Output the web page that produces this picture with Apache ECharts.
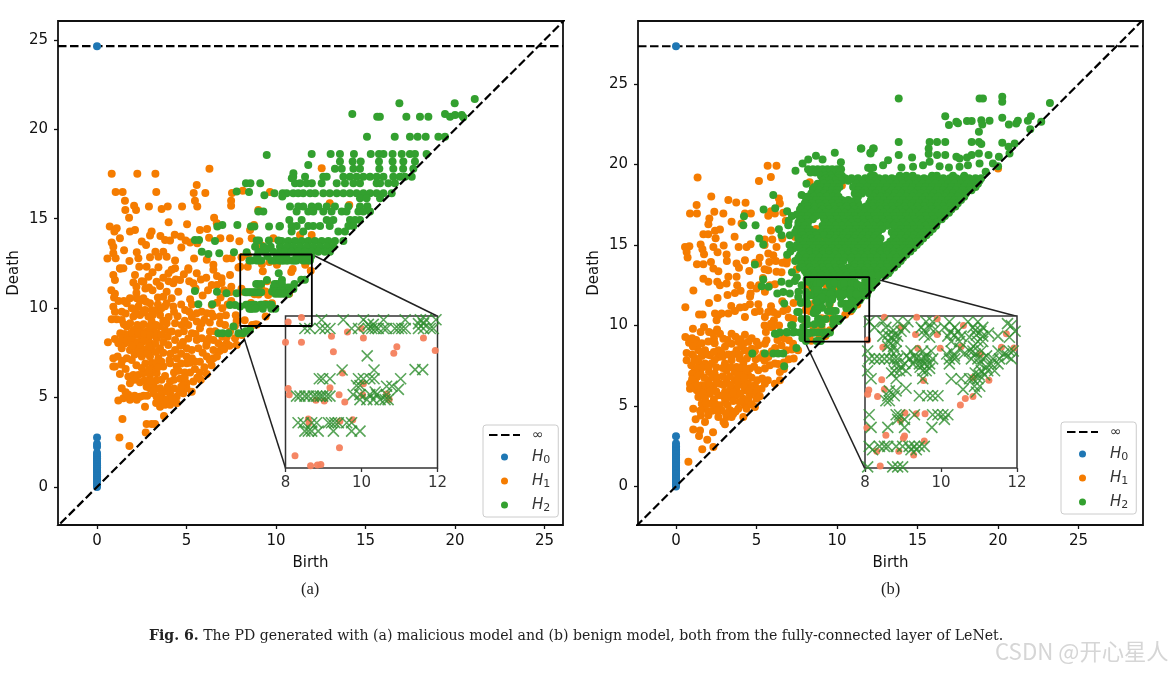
<!DOCTYPE html>
<html><head><meta charset="utf-8">
<style>html,body{margin:0;padding:0;background:#fff}#c{width:1172px;height:673px}</style>
<script src="https://cdn.jsdelivr.net/npm/echarts@6/dist/echarts.min.js"></script>
</head><body><div id="c"></div>
<script>
const ticksMain=[0,5,10,15,20,25];
const ticksInset=[8,10,12];
const legendNames=['∞','H0','H1','H2'];
// --- panel (a) values, flat birth,death pairs
const infA=24.65, infB=27.35;
const h0A=[0,0,0,.1,0,.2,0,.3,0,.4,0,.5,0,.6,0,.7,0,.8,0,.9,0,1,0,1.1,0,1.2,0,1.3,0,1.4,0,1.5,0,1.6,0,1.7,0,1.8,0,1.9,0,2.25,0,2.4,0,2.76,0,24.65];
const h1aTop=[.82,17.52,2.25,17.52,3.26,17.52,6.28,17.8,1.04,16.5,1.43,16.5,3.31,16.5,5.57,16.89,5.4,16.44,6.05,16.44,7.54,16.44,8.14,16.57,9.66,16.5,1.56,16,2.07,15.72,2.18,15.49,1.58,15.49,2.9,15.68,3.95,15.68,3.61,15.55,4.75,15.68,5.47,16,5.6,15.68,7.49,16,7.49,15.73,1.79,15.06,4,14.8,5.03,14.69,6.54,15.06,9.01,15.49,.71,14.56,1.1,14.47,.97,14.28,1.84,14.28,2.12,14.37,3.05,14.28,2.96,14.06,6.69,14.75,5.75,14.37,6.15,14.43,8.77,14.65,8.55,14.37,1.28,13.91,3.54,14.04,3.8,13.81,4.08,13.78,4.34,14.11,4.68,14,4.95,13.78,5.2,13.67,6.26,13.94,6.89,13.91,7.43,13.91,7.95,13.74,8.64,13.91,9.85,13.91,.82,13.67,.91,13.44,2.74,13.53,2.5,13.72,1.51,13.24,2.22,13.12,3.26,13.16,3.7,13.16,4.71,13.39,5.6,13.63,.91,13.07,1.04,12.79,.58,12.77,1.81,12.64,2.31,12.79,2.96,12.85,3.43,12.88,3.89,12.88,4.36,12.66,5.42,12.77,6.13,12.7,6.5,12.42,7.24,12.77,7.52,12.79,7.9,12.27,1.28,12.23,1.47,12.23,2.36,12.32,2.77,12.32,3.43,12.29,4.36,12.23,5.1,12.23,13,15.86,14.09,15.77,12.55,17.82,11.99,14.09,11.34,14.09,10.4,13.2,9.2,13.5];
const h1aMid=[.91,11.86,1,11.58,1.3,12.2,2.12,11.86,2.59,11.48,2.03,11.43,2.87,11.76,3.33,11.48,3.52,11.24,3.99,11.95,4.17,12.14,4.64,11.58,4.26,11.39,5.1,12.14,5.57,11.95,6.41,11.3,5.38,11.39,6.5,12.14,6.96,11.67,7.43,11.86,5.5,11.1,.8,11,1,10.8,.95,10.6,1.2,10.4,3.4,10.6,.91,10.08,1,9.8,.82,9.38,1.1,9.38,1.38,9.34,1.38,9.8,1.66,10.27,1.84,10.55,2.22,10.55,2.59,10.55,2.96,10.27,3.05,9.9,1.94,9.99,2.31,10.09,2.68,9.9,2.03,9.53,2.4,9.62,2.87,9.53,3.05,9.25,3.52,9.62,3.89,9.15,4.36,9.15,4.73,9.06,5.1,9.06,5.57,9.25,5.85,9.15,5.57,9.71,5.85,9.8,4.92,9.9,4.26,10.09,3.89,10.27,3.7,10.64,4.17,10.55,4.54,10.92,3.89,10.92,3.52,8.97,3.8,8.78,4.17,8.69,4.54,8.59,4.85,8.7,1.66,8.97,2.03,8.78,2.4,8.87,2.77,8.69,3.15,8.78,1.75,8.41,2.12,8.5,2.5,8.41,2.87,8.31,3.33,8.31,.61,8.09,1,8.28,1.19,8.04,1.56,8.04,1.38,7.76,1.84,7.66,2.22,7.76,2.68,7.66,3.05,7.66,3.52,7.76,3.98,7.94,4.36,8.22,5.01,7.76,5.29,7.66,5.57,8.22,5.85,8.31,6.13,8.04,6.5,8.22,6.78,8.04,6.31,8.69,5.75,8.87,6.87,9.15,6.5,9.53,6.13,9.71,6.41,10.18,6.87,9.53,7.15,9.06,7.71,8.31,7.8,7.94,8.08,8.5,7.24,8.04,7.43,8.69,6.5,7.66,6.5,7.2,6.13,7.29,5.66,7.76,5.9,7.5,6.9,10.6,7.5,10.4,7,10,5.2,10.5,5.9,10.7,4.7,10.2,6.2,11,7.5,11.2,7.2,9.6];
const h1aLow=[.91,7.2,1.15,7.3,1,6.73,1.66,7.2,1.94,7.1,2.5,7.29,2.96,7.29,3.43,7.2,4.36,7.66,4.45,7.2,5.47,7.01,5.01,6.92,1.75,6.17,2.03,6.26,2.31,6.26,2.59,6.36,2.96,6.26,3.33,6.36,1.84,5.8,2.1,6,3.7,6.73,4.08,6.92,4.45,6.73,3.8,6.2,4.08,5.9,4.65,6.05,5,5.8,5.2,6.4,5.47,6.6,5.75,6.4,6.13,6.32,5.38,5.9,2.77,5.6,3.15,5.7,3.52,5.52,1.28,6.32,.91,6.73,1.35,6.85,1.6,6.6,2.7,6.9,3.05,6.95,3.33,6.95,3.6,7,4.7,6.9,5.75,7,6,6.7,4.9,6.4,1.19,4.83,1.47,4.96,1.75,5.15,1.84,4.87,2.22,4.87,2.4,5.05,2.68,4.49,2.96,5.52,3.15,5.24,3.33,5.05,3.52,4.49,3.8,4.59,4.08,4.59,4.45,4.68,4.08,5.24,4.45,5.05,4.82,5.24,5,5.52,5.29,5.33,1.38,5.52,3.74,3.97,1.42,3.8,2.77,3.52,3.05,3.52,3.24,3.52,2.72,3.04,1.25,2.76,1.81,2.29];
const h1aDense=[1.5,10.4,2.4,10.4,2.75,10.35,1.6,9.7,2.15,9.75,2.55,9.75,3.25,9.85,3.1,9.6,1.5,9.1,1.85,9.15,2.25,9.05,2.6,9.1,2.95,9,3.3,9.05,3.7,9.3,4,9.5,1.9,8.6,2.3,8.65,2.65,8.55,3,8.5,3.35,8.6,3.6,8.5,3.95,8.4,1.55,8.55,1.3,8.6,1.4,8.3,1.65,8.2,1.95,8.2,2.3,8.1,2.6,8.15,2.95,8.05,3.25,8,3.7,8.1,1.95,7.9,2.45,7.85,2.9,7.85,3.3,7.55,3.7,7.5,4.1,7.45,4.05,7.1,4.7,7.45,5,7.3,5.3,7.2,4.8,8.1,5.1,8.3,4.65,7.9,5.3,8.6,5.5,8.55,4.9,9.3,5.3,9.5,6,9.35,6.3,9.2,6.25,8.3,6.6,8.7,7,8.4,6.95,7.9,6.85,7.6,7.25,8.4,6.1,7.9,4.5,9.55,4.3,9.8,3.8,10.1,3.4,10.2,3.6,10,2.1,7.4,2.4,7.5,2.8,7.45,1.4,7.05,2.2,6.8,2.5,6.65,3.1,6.6,3.4,6.7,2.9,6.55,4.3,6.4,4.55,6.5,4.3,6,4.8,5.7,3.3,5.95,3.6,6,2.4,5.85,2.65,5.95,3,5.95,3.2,5.4,3.6,5.2,3.85,5.35,3.95,5.6,4.3,5.5,4.6,5.35,3.5,4.9,3.7,4.9,3.3,4.7,3.9,4.9,4.2,4.9,2.6,5.1,2.8,5.1,2.1,5.1,1.6,5.3,4.7,5.6,5.6,6.1,5.8,6,6.4,6.8,6.3,7.1,6.7,7.3,7.1,7.7,7.4,7.9,5.2,6.95,4.9,6.1,2.2,11.2,2.7,11.1,2.9,11.15,3.1,11,2.2,10.85,2.5,11.5,3.1,12,3.7,11.7,4,11.5,4.4,11.6,4.85,11.9,5.15,11.5,5.8,11.6,6.1,11.7,6.7,11.3,6.7,11.8,6.95,11.4,7.1,11,7.45,10.9,7.75,9.6,7.8,9.3,7.7,9,7.3,10.2,6.7,10.3,6.4,9.7,5.3,10.2,5.15,9.8];
const h1aInset=[8.07,12.84,8.42,12.96,8,12.31,8.42,12.31,9.21,12.47,9.63,12.58,10,12.67,10.05,12.42,9.26,12.06,10.93,12.19,10.85,12.02,11.63,12.42,11.94,12.09,8.07,11.09,8.1,10.93,9.17,11.11,8.8,10.78,9.41,10.93,9.56,10.74,9.5,11.5,10.05,11.22,10.03,10.93,10.66,10.95,10.73,10.8,9.02,10.76,8.6,10.29,8.62,10.19,9.43,10.23,9.77,10.27,9.42,9.53,8.25,9.32,8.66,9.06,8.84,9.08,8.93,9.09];
const h2aTop=[16.89,21.46,21.1,21.7,19.98,21.46,14.26,20.86,15.65,20.71,15.8,20.71,17.28,20.71,18.04,20.71,18.51,20.71,19.44,20.86,19.72,20.71,20,20.8,20.37,20.8,20.46,20.67,15.08,19.59,16.63,19.59,17.48,19.59,17.91,19.59,18.36,19.59,19.07,19.59,19.44,19.59,11.99,18.62,13.05,18.62,13.57,18.62,14.35,18.62,15.29,18.62,15.75,18.62,16,18.62,16.51,18.62,17.02,18.62,17.48,18.62,17.76,18.62,18.41,18.62,13.57,18.2,14.28,18.2,14.73,18.2,15.75,18.2,16.51,18.2,17.11,18.2,17.76,18.2,11.8,18,13.29,17.8,13.67,17.8,14.32,17.8,14.69,17.8,15.77,17.8,16.55,17.8,17.1,17.8,17.67,17.8,10.96,17.35,11.62,17.35,12.64,17.35,12.83,17.35,13.76,17.35,14.13,17.35,14.5,17.35,14.88,17.35,15.25,17.35,15.62,17.35,16,17.35,16.55,17.35,16.92,17.35,17.2,17.35,17.58,17.35,11.06,16.98,11.34,16.98,11.71,16.98,12,16.98,12.55,16.98,13.39,16.98,13.85,16.98,14.32,16.98,14.69,16.98,15.62,16.98,15.81,16.98,16.27,16.98,16.64,16.98];
const h2aRows=[10.37,16.42,10.59,16.42,10.96,16.42,11.24,16.42,11.52,16.42,11.9,16.42,12.18,16.42,12.64,16.42,13,16.42,13.39,16.42,13.76,16.42,14.13,16.42,14.5,16.42,14.88,16.42,15.25,16.42,15.62,16.42,16,16.42,16.46,16.42,14.69,16.14,15.06,16.14,15.81,16.14,10.78,15.68,11.24,15.68,11.52,15.68,11.99,15.68,12.36,15.68,12.83,15.68,13.29,15.68,14.04,15.68,14.69,15.68,15.1,15.7,11.15,15.4,11.8,15.4,12.08,15.4,12.64,15.4,13.1,15.4,13.67,15.4,13.94,15.4,14.6,15.4,14.88,15.4,15.25,15.4,10.74,14.93,11.43,14.93,12.83,14.93,13.2,14.93,14.13,14.93,14.69,14.93,14.41,14.93,10.22,14.6,10.87,14.6,11.15,14.6,11.8,14.6,12.08,14.6,12.46,14.6,13,14.6,14.04,14.6,14.32,14.6,10.87,14.28,11.52,14.28,13.48,14.28,13.85,14.28,10.31,13.75,10.69,13.75,11.06,13.75,11.43,13.75,11.8,13.75,12.18,13.75,12.55,13.75,12.92,13.75,13.29,13.75,13.76,13.75,10.22,13.44,10.59,13.44,10.96,13.44,11.34,13.44,11.71,13.44,12.08,13.44,12.46,13.44,12.83,13.44,13.2,13.44,10.22,13.16,10.5,13.16,10.87,13.16,11.24,13.16,11.62,13.16,11.99,13.16,12.36,13.16,12.73,13.16,13.01,13.16];
const h2aLeft=[9.48,18.57,8.32,16.98,8.57,16.98,9.12,16.98,10.97,17.54,10.88,17.26,7.8,16.52,8.49,16.5,9.35,16.31,9.91,16.42,10.35,16.24,9.29,15.4,9.01,15.4,6.72,14.56,7,14.65,7.84,14.65,8.6,14.56,8.79,14.56,9.61,14.56,10.19,14.56,5.47,13.81,5.7,13.81,6.59,13.76,8.92,13.78,10.13,13.78,8.83,13.44,9.48,13.29,5.85,13.16,6.22,13.03,6.83,13.07,7.65,13.12,8.36,13.12,9.01,13.16,9.39,13.16,9.85,13.16,9.3,13.44,9.7,13.44,9.6,13.78,9.05,13.78,5.47,10.96,5.66,10.22,6.44,10.22,6.7,10.92,7.23,10.83,7.8,10.83,6.78,8.59,7.02,8.59,7.34,8.59,7.62,8.97,7.9,8.59,8.17,8.59,8.55,8.78,7.43,10.18,7.71,10.18,7.99,10.09,8.3,8.7];
const h2aInset=[8.51,12.67,8.64,12.67,8.91,12.67,9.04,12.67,9.17,12.67,9.74,12.67,9.92,12.67,10.18,12.67,10.27,12.67,10.36,12.67,10.44,12.67,10.58,12.67,10.66,12.67,10.88,12.67,10.97,12.67,11.06,12.67,11.15,12.67,11.5,12.67,11.63,12.67,11.81,12.67,11.89,12.67,10.18,12.78,10.31,12.78,11.5,12.8,11.63,12.8,8.95,12.9,9.52,12.9,10.05,12.9,10.58,12.9,11.15,12.9,11.55,12.9,11.7,12.9,11.96,12.9,10.15,11.95,11.41,11.59,11.61,11.59,9.49,11.58,10.33,11.58,8.89,11.35,8.98,11.35,9.17,11.35,9.92,11.35,10.05,11.35,10.22,11.35,10.33,11.35,11.03,11.35,9.87,11.17,9.96,11.17,10.66,11.15,10.8,11.15,10.97,11.07,10.36,11,8.29,10.89,8.38,10.89,8.51,10.89,8.6,10.89,8.73,10.89,8.82,10.89,8.91,10.89,8.98,10.89,9.08,10.89,9.17,10.89,9.78,10.93,9.96,10.93,10.22,10.93,10.4,10.93,10.66,10.93,9.96,10.8,10.14,10.8,10.31,10.8,10.49,10.8,10.62,10.8,10.7,10.8,8.33,10.19,8.47,10.19,8.69,10.19,8.82,10.19,9.13,10.19,9.21,10.19,9.3,10.19,9.39,10.19,9.61,10.19,9.74,10.19,8.51,9.97,8.6,9.97,8.69,9.97,8.86,9.97,9.26,9.97,9.74,9.97,9.96,9.97];
// --- panel (b) values
const h0B=[0,0,0,.1,0,.2,0,.3,0,.4,0,.5,0,.6,0,.7,0,.8,0,.9,0,1,0,1.1,0,1.2,0,1.3,0,1.4,0,1.5,0,1.6,0,1.7,0,1.8,0,1.9,0,2,0,2.1,0,2.2,0,2.3,0,2.4,0,2.5,0,2.67,0,3.12,0,27.35];
const h1bTop=[1.34,19.2,5.69,19.92,6.24,19.92,5.89,19.22,5.15,18.97,2.19,18.01,3.25,17.79,3.74,17.64,4.32,17.62,1.28,17.48,.87,16.96,1.3,16.96,2.38,17.06,2.94,16.96,2.07,16.65,2.01,16.29,3.45,16.44,4.07,16.34,4.28,16.96,4.65,16.96,5.73,16.81,6.14,16.96,6.66,17,6.39,17.89,6.45,17.58,6.82,16.5,2.42,15.88,2.73,15.96,1.7,15.67,2,15.67,2.46,15.42,3.64,15.51,5.52,15.34,5.98,15.34,.56,14.88,.83,14.93,.66,14.57,.72,14.22,1.53,15.03,1.64,14.74,1.74,14.43,2.32,14.88,2.58,14.55,2.96,14.97,3.89,14.88,4.38,14.88,4.63,15.05,3.14,14.41,3.16,14.01,1.3,13.81,1.7,13.81,2.17,13.95,2.32,13.54,2.63,13.37,3.76,13.85,3.91,13.58,4.28,14.05,4.55,13.39,5.11,13.85,5.73,14.47,6.04,14.37,6.24,14.88,5.79,13.95,5.73,13.43,6.24,13.33,6.87,13.85,1.7,12.91,2.01,12.71,2.56,12.71,3.25,13.02,3.76,13.02,3.14,12.6,2.73,12.5,3.8,12.5,4.01,12.15,3.66,12.02,4.63,12.5,4.63,11.98,1.08,12.17,5.15,12.5,5.52,12.09,5.83,12.5,6.14,12.56,2.05,11.4,2.58,11.71,3.43,11.21,.58,11.13,1.43,10.68,1.65,10.68,2.42,10.74,2.63,10.63,2.83,10.74,3.25,10.74,3.66,10.9,3.97,11.11,4.28,11.15,4.59,11.32,5.11,11.32,4.28,10.53,4.9,10.84,5.73,10.84,6.04,10.84,5.52,10.53,6.66,10.9,6.08,10.32,2.52,10.32,7.3,11.4,7.8,14.5,7.5,13.5,9.2,15.4,10.8,13.6,13,16.3,11,16.7,8.7,16,8,14,9.5,13.2,20,19.75,12.4,15.1,14.5,15.5,7.4,15.5,8.3,18.9,10.3,18.7];
const h1bLow=[.58,9.29,.81,8.93,1.05,9.8,1.53,9.6,1.74,9.91,2.05,9.6,2.36,9.18,2.73,9.49,2.94,9.18,3.45,9.49,4.28,9.43,4.5,8.98,5,8.98,5.58,9.6,5.62,9.08,.66,8.29,1.39,8.46,1.8,8.46,2.4,8.9,2.11,8.15,2.63,8.46,3.04,8.67,3.45,8.87,3.87,8.98,3.76,8.46,4.28,8.46,4.7,8.56,5.11,8.77,5.52,8.87,5.42,8.25,5.73,8.04,6.14,7.63,6.55,8.77,6.86,8.46,7.27,8.87,7.58,8.46,7.01,9.08,7.31,7.94,6.45,7.11,6.14,6.38,6.45,6.59,.66,7.84,.95,7.53,1.39,7.73,1.8,7.63,2.21,7.63,2.63,8.04,3.04,7.63,3.45,7.84,3.76,7.42,4.18,7.63,4.59,7.32,5.11,7.21,5.52,7.32,5.83,7.53,1.12,7.11,1.53,7.01,2.05,7.11,2.4,7,3.14,7.21,3.66,7.11,4.07,7.01,4.48,6.9,.87,6.38,.87,6.07,1.18,6.49,1.6,6.28,2.01,6.59,2.32,6.18,2.73,6.38,3.14,6.59,3.66,6.59,4.07,6.49,4.48,6.38,4.9,6.28,5.31,6.07,5.52,6.38,3.76,6.07,3.35,5.97,1.29,5.97,1.9,5.97,4.28,5.97,1.39,5.56,1.8,5.45,2.11,5.76,2.63,5.66,3.04,5.87,3.35,5.56,3.76,5.66,4.18,5.45,4.59,5.66,5,5.45,1.6,5.14,2.11,5.14,2.73,5.04,4.28,5.04,4.9,4.93,1.07,4.83,1.8,4.83,2.83,4.73,3.35,4.73,3.87,4.83,4.38,4.83,1.22,4.17,2.01,4.42,1.8,4,2.63,4.31,3.14,4.31,3.45,4.31,3.04,3.86,4.18,4.31,1.07,3.54,1.49,3.48,1.43,3.13,2.3,3.36,1.94,2.9,1.63,2.3,2.32,2.45,.77,1.53];
const h1bDense=[1,9.2,1.25,9.1,1.3,8.8,1.6,8.9,2,9,2.3,9.5,2.55,9.75,3.2,9.1,3.7,9.3,4,9.15,4.2,8.9,4.7,9.2,1.05,8.7,1,8.2,1.15,8,1.6,8.1,1.95,8.2,2.35,8.35,2.85,8.25,3.25,8.2,3.55,8.2,3.95,8.2,4.05,8.7,4.55,8.2,4.9,8.4,4.95,7.9,5.25,8,5.5,7.8,4.4,7.95,3.95,7.95,2.9,8.05,2.4,7.85,1.15,7.8,1.35,7.35,1.65,7.4,2,7.4,2.5,7.4,2.9,7.35,3.4,7.4,3.95,7.35,4.35,7.3,4.85,7.45,1,7,1.3,6.8,1.75,6.75,2.25,6.8,2.55,6.75,2.9,6.85,3.35,6.85,3.85,6.8,4.25,6.75,4.7,6.75,5.05,6.6,5.35,6.7,5.7,6.6,1,6.65,1.1,6.2,1.35,6.25,1.85,6.3,2.1,6.3,2.5,6.45,2.95,6.3,3.4,6.3,3.85,6.3,4.25,6.2,4.65,6.05,5.05,6,1.5,5.85,1.7,5.75,2.15,5.95,2.5,5.9,2.95,5.6,3.55,5.85,4,5.75,4.5,5.9,5,5.8,5.2,5.6,1.85,5.2,2.35,5.4,2.45,5.1,3.05,5.3,3.2,5.05,3.55,5.3,3.95,5.25,4.5,5.3,4.7,5.1,2,4.65,2.25,4.7,2.55,4.7,3.1,4.55,3.55,4.5,3.7,4.65,1.55,4.4,1.5,4.7,2.95,4,6.4,10,6,9.9,6.7,9.2,6.3,9.1,6.15,8.6,5.95,8.4,7,7.9,6.7,7.7,6.35,7.6,6.7,7.3,7.2,8.5,6.6,11.5,6.9,11,7,10.5,6.3,10.7,7.3,10.4,5.9,11.2,5.2,10.9,5,12.3,5.4,12.95,6.55,13.3,6.6,13.9,6.9,14.1,6.2,14,5.5,15,4.9,13.9,5.2,14.2,4.6,11.8,3.2,11.9,5.9,15.9,6.6,15.4,5.9,17.1,5.5,13.5,5.9,9.9,5.5,10,5.9,10.1];
const h1bInset=[8.51,12.97,9.36,12.97,9.9,12.93,8.95,12.7,9.33,12.51,9.9,12.51,10.59,12.75,8.07,12.37,8.47,12.18,9.39,12.15,9.98,12.15,10.53,12.2,11.04,12,11.59,12.18,11.72,12.53,11.92,12.16,11.26,11.31,10.84,11.38,8.44,11.32,9.54,11.3,8.1,11.05,8.07,10.94,8.33,10.88,8.51,11.07,10.84,10.88,10.64,10.83,10.51,10.66,9.05,10.45,9.58,10.43,9.35,10.43,8.05,10.06,8.93,10.25,8.55,9.86,9.04,9.84,9.01,9.78,9.56,9.71,8.31,9.44,8.89,9.44,9.28,9.34,8.4,9.05];
const h2bEdge=[13.83,24.11,18.85,24.11,19.06,24.11,20.26,24.21,20.26,23.9,23.22,23.82,16.72,23,16.95,22.45,17.41,22.66,17.51,22.56,18.07,22.7,18.36,22.7,18.96,22.76,19.02,22.49,19.47,22.72,20.26,22.91,20.67,22.49,21.13,22.55,21.23,22.72,21.85,22.72,22.04,23,22.68,22.66,22,22.2,18.81,22.04,13.83,21.4,15.75,21.4,16.21,21.4,16.72,21.4,18.36,21.4,18.81,21.4,18.96,21.27,20.26,21.35,20.65,21.1,21.03,21.31,20.71,20.69,11.51,21,12.24,21,12.07,20.73,13.83,20.59,14.66,20.44,15.69,21,15.69,20.65,16.21,20.59,16.72,20.59,17.41,20.48,17.61,20.38,18.07,20.44,18.36,20.59,18.81,20.69,19.41,20.59,20.05,20.48,19.68,20.07,20,19.9,11.93,19.8,12.24,19.8,13.17,20.27,12.86,19.96,14,19.82,14.72,19.86,15.34,19.96,15.75,20.17,16.37,19.9,16.95,19.82,17.61,19.86,18.13,19.96,18.85,20.07,19.23,19.55,11.48,21,12.28,21,12.08,20.69,9.86,20.73,8.69,20.54,8.21,20.32,7.86,20.07,7.42,19.61,9.1,20.32,10.24,20.15,12.08,19.76];
const h2bLeft=[4.22,16.79,4.18,16.23,4.94,16.23,5.44,17.2,6.16,17.29,6.04,18.1,5.17,15.4,5.42,15.03,6.39,15.98,6.97,16.23,6.55,15.61,7.07,15.61,7.59,15.61,7.8,18.1,8.04,17.99,4.9,13.79,5.42,12.85,5.32,12.44,5.75,12.4,6.29,11.98,6.55,12.71,7.03,12.6,7.38,12.77,6.66,12.08,7.07,11.98,7.59,11.77,6.72,11.36,7.63,10.84,7.24,10.01,6.24,9.49,6.87,9.6,7.38,9.6,4.74,8.25,5.52,8.25,6.04,8.25,6.35,8.25,6.66,8.25,6.72,7.46,6.14,9.49,6.45,9.56,6.91,9.56,7.27,9.56,7.69,9.56,7.15,10.01,7.48,8.6,7.53,10.84,7.6,12.1,7.8,12.5,7.75,11.4,7.9,9.9,7.8,10.4,7.85,9.2,7.5,13,7.2,13.3,7.7,13.6,7.4,14,6.9,14.4,7.3,14.8,7.7,14.4,7.05,15,7.9,17.1,7.5,16.9,7.2,16.8,7,16.5,7.6,16.4,6.9,17.1,8.1,18.8,8.5,18.5];
const h2bRows=[
 [19.7,8.2,8.5,8.8,9.1,9.4,9.7,10,10.25],
 [19.5,8.35,8.65,8.95,9.25,9.55,9.85,10.15],
 [19.3,9,9.3,9.6,10.1,10.3,12.1,12.3,13.9,14.3,14.7,15.9,16.2,17.2,17.9],
 [19.15,9.3,9.7,10.1,10.5,10.9,11.3,11.75,12.2,12.6,13,13.4,13.8,14.2,14.6,15,15.4,15.8,16.2,16.6,17,17.4,17.8,18.2,18.6,18.95],
 [19,9.1,9.5,9.9,10.3,10.7,11.1,11.5,12,12.4,12.8,13.2,13.6,14,14.4,14.8,15.2,15.6,16,16.4,16.8,17.2,17.6,18,18.4,18.85],
 [18.8,8.8,9.2,9.6,10,11.2,11.6,12.1,12.5,12.9,13.3,13.7,14.1,14.5,14.9,15.3,15.7,16.1,16.5,16.9,17.3,17.7,18.1,18.5,18.75],
 [18.6,8.6,9,9.4,9.8,10.15,11,11.4,11.9,12.3,12.7,13.1,13.5,13.9,14.3,14.7,15.1,15.5,15.9,16.3,16.7,17.1,17.5,17.9,18.3,18.6],
 [18.4,8.5,8.9,9.3,9.7,10,11.3,11.75,12.2,12.6,13,13.4,13.8,14.2,14.6,15,15.4,15.8,16.2,16.6,17,17.4,17.8,18.2,18.35],
 [18.2,8.4,8.8,9.2,9.6,9.95,11.1,11.55,12,12.4,12.8,13.2,13.6,14,14.4,14.8,15.2,15.6,16,16.4,16.8,17.2,17.6,18],
 [18,8.15,8.55,8.95,9.35,9.75,10.1,11.3,12.3,12.7,13.1,13.5,13.9,14.3,14.7,15.1,15.5,15.9,16.3,16.7,17.1,17.5,17.9],
 [17.8,8.3,8.7,9.1,9.5,9.9,10.3,10.7,11.15,12.1,12.5,12.9,13.3,13.7,14.1,14.5,14.9,15.3,15.7,16.1,16.5,16.9,17.3,17.7],
 [17.6,8,8.45,8.9,9.3,9.7,10.1,10.5,10.9,11.3,12,12.3,12.7,13.1,13.5,13.9,14.3,14.7,15.1,15.5,15.9,16.3,16.7,17.1,17.5],
 [17.4,7.8,8.2,8.6,9,9.4,9.8,10.2,10.6,11,11.4,11.8,12.2,12.6,13,13.4,13.8,14.2,14.6,15,15.4,15.8,16.2,16.6,17,17.35],
 [17.2,7.7,8.2,8.6,9.1,9.5,9.9,10.3,10.7,11.1,11.5,11.9,12.3,12.7,13.1,13.5,13.9,14.3,14.7,15.1,15.5,15.9,16.3,16.7,17.1],
 [17,8,8.4,8.9,9.3,9.7,10.1,10.5,10.9,11.3,11.7,12.1,12.5,12.9,13.3,13.7,14.1,14.5,14.9,15.3,15.7,16.1,16.5,16.95],
 [16.8,7.8,8.2,8.7,9.1,9.5,9.9,10.3,10.7,11.1,11.5,11.9,12.3,12.7,13.1,13.5,13.9,14.3,14.7,15.1,15.5,15.9,16.3,16.7],
 [16.6,7.7,8.1,8.5,9.2,9.6,10,10.4,10.8,11.2,11.6,12,12.4,12.8,13.2,13.6,14,14.4,14.8,15.2,15.6,16,16.5],
 [16.4,7.85,8.2,9.3,9.7,10.1,10.5,10.9,11.3,11.7,12.1,12.5,12.9,13.3,13.7,14.1,14.5,14.9,15.3,15.7,16.2],
 [16.2,7.6,8,9.1,9.5,9.9,10.3,10.7,11.1,11.5,11.9,12.3,12.7,13.1,13.5,13.9,14.3,14.7,15.1,15.5,15.9,16.15],
 [16,7.5,7.9,8.3,9.2,9.6,10,10.4,10.8,11.2,11.6,12,12.4,12.8,13.6,14,14.4,14.8,15.2,15.6,15.95],
 [15.8,7.4,7.8,8.2,8.6,9,9.4,9.8,10.2,10.6,11,11.4,11.8,12.2,12.55,13.4,13.8,14.2,14.6,15,15.4,15.75],
 [15.6,7.9,8.3,8.7,9.2,9.6,10,10.4,10.8,11.2,11.6,12,12.4,13.6,14,14.4,14.8,15.2,15.55],
 [15.4,7.6,8,8.4,8.8,9.5,9.9,10.3,10.7,11.1,11.5,11.9,12.3,12.7,13.5,13.9,14.3,14.7,15.1,15.35],
 [15.2,7.7,8.1,8.5,8.9,9.3,9.7,10.1,10.5,10.9,11.3,11.7,12.1,12.5,13.3,13.7,14.1,14.5,14.9,15.15],
 [15,7.5,7.9,8.3,8.7,9.1,9.5,9.9,10.3,10.7,11.1,11.5,11.9,12.3,12.7,13.1,13.5,13.9,14.3,14.65,14.95],
 [14.8,7.7,8.1,8.5,8.9,9.3,9.7,10.1,10.5,10.9,11.3,11.7,12.1,12.5,12.9,13.3,13.7,14.1,14.45,14.75],
 [14.6,7.1,7.9,8.3,8.7,9.1,9.5,9.9,10.3,10.7,11.1,11.5,11.9,12.3,12.7,13.1,13.5,13.9,14.25,14.55],
 [14.4,7.9,8.3,8.7,9.1,9.5,9.9,10.3,10.7,11.1,11.5,11.9,12.3,12.7,13.1,13.5,13.9,14.3],
 [14.2,7.6,8.1,8.5,8.9,9.3,9.7,10.1,10.5,10.9,11.3,11.7,12.1,12.5,12.9,13.3,13.7,14.1],
 [14,8,8.4,8.8,9.2,9.6,10,10.4,10.9,11.3,11.7,12.1,12.5,12.9,13.3,13.65,13.95],
 [13.8,7.8,8.2,8.6,9,9.4,9.8,10.2,11.1,11.5,11.9,12.3,12.7,13.1,13.45,13.75],
 [13.6,7.9,8.3,8.7,9.1,9.5,9.9,10.3,10.7,11.1,11.5,11.9,12.3,12.7,13.1,13.55],
 [13.4,8,8.4,8.8,9.2,9.6,10,10.4,10.9,11.3,11.7,12.1,12.5,12.9,13.3],
 [13.25,8.1,8.5,8.9,9.3,9.7,10.1,10.5,10.9,11.3,11.7,12.1,12.5,12.9,13.2],
 [13.1,8.2,8.6,9,9.4,9.8,10.2,10.6,11,11.4,11.8,12.2,12.6,13],
 [12.7,12.1,12.45],
 [12.35,12.15]
];
const h2bInset=[8.11,12.85,8.25,12.7,8.47,12.85,8.55,12.7,8.86,12.85,9.04,12.7,9.13,12.85,9.48,12.7,9.61,12.85,9.7,12.7,9.78,12.85,10.09,12.7,10.22,12.85,10.36,12.7,10.71,12.85,10.84,12.7,10.97,12.85,11.1,12.7,11.85,12.75,8.47,12.47,8.6,12.5,8.69,12.44,8.77,12.5,8.86,12.47,9.56,12.5,9.7,12.44,10.18,12.47,10.36,12.5,10.53,12.47,10.75,12.44,10.93,12.5,11.1,12.47,11.5,12.47,11.8,12.44,8.64,12.33,8.82,12.33,10.27,12.33,10.49,12.33,10.97,12.33,11.1,12.33,8.07,12.08,8.69,12.08,8.82,12.08,9.21,12.08,9.52,12.08,9.74,12.08,10.27,12.08,10.75,12.08,10.84,12.08,11.06,12.08,11.5,12.08,11.8,12.08,11.9,12.08,8.11,11.87,8.25,11.87,8.38,11.87,8.51,11.87,8.64,11.87,8.77,11.87,8.86,11.87,9.17,11.87,9.35,11.87,9.48,11.87,9.61,11.87,9.78,11.87,10.22,11.87,10.36,11.87,10.8,11.87,10.97,11.87,11.1,11.87,11.37,11.87,11.54,11.87,11.85,11.87,8.82,11.74,9.26,11.74,9.43,11.74,9.56,11.74,9.7,11.74,10.22,11.74,11.02,11.74,11.32,11.74,11.5,11.74,8.07,11.56,8.77,11.56,8.91,11.56,9.08,11.56,9.52,11.56,9.61,11.56,11.06,11.56,11.23,11.56,11.41,11.56,8.16,11.35,8.82,11.35,9.52,11.35,10.27,11.35,10.53,11.35,10.97,11.35,10.84,11.35,10.88,11.15,11.02,11.15,10.58,11.07,9.08,11.1,8.64,11.03,8.82,11.03,8.6,10.9,8.77,10.9,9.43,10.9,9.65,10.9,9.78,10.9,9.92,10.9,10.93,11,8.55,10.77,8.64,10.77,8.11,10.4,8.82,10.4,8.91,10.4,9.3,10.4,9.78,10.4,9.92,10.4,10.05,10.4,10.18,10.4,8.86,10.28,9.04,10.28,10.09,10.28,8.16,10.07,8.6,10.07,9.04,10.07,9.76,10.07,8.11,9.57,8.38,9.57,8.51,9.57,8.6,9.57,8.82,9.57,8.99,9.57,9.16,9.57,9.3,9.57,9.43,9.57,9.56,9.57,8.2,9.48,9.21,9.48,9.35,9.48,8.07,9.03,8.73,9.03,8.86,9.03,8.99,9.03,8.75,12.62,8.95,12.6,9.55,12.62,9.85,12.65,10.25,12.58,10.45,12.6,10.9,12.62,11.05,12.6,11.25,12.55,11.75,12.8,11.95,12.6,8.6,12.2,8.75,12.2,10.5,12.15,10.6,12,10.85,12.2,10.9,12,11.65,12,11.75,11.95,9.1,11.95,9.3,11.95,9.45,11.65,9.6,11.95,9.7,11.62,10.15,12,10.35,11.95,11.2,11.65,11.15,11.45,11,11.45,8.95,11.65,9.05,11.75,8.7,11.5,10.9,11.5,10.75,11.35,11.2,11.95];

const toPts=f=>{const o=[];for(let i=0;i<f.length;i+=2)o.push([f[i],f[i+1]]);return o;};
const fromRows=r=>r.flatMap(a=>a.slice(1).map(x=>[x,a[0]]));
const BLUE='#1f77b4',ORANGE='#f57c00',GREEN='#33a02f',IORANGE='#f4805c',IGREEN='#2f8f2f',INK='#111',GRAY='#333';
const FONT='DejaVu Sans';
const CROSS='path://M0 0L10 10M10 0L0 10';

const panels=[
 {left:58,ix:285.5,xr:[-2.18,26.03],yr:[-2.13,26.06],inf:infA,h0:h0A,
  h1:[...toPts(h1aTop),...toPts(h1aMid),...toPts(h1aLow),...toPts(h1aDense)],h1i:h1aInset,
  h2:[...toPts(h2aTop),...toPts(h2aRows),...toPts(h2aLeft)],h2i:h2aInset,
  box:[[8,9],[12,9],[12,13],[8,13],[8,9]],c1:[[12,13],[19,9.56]],c2:[[8,9],[10.53,1.06]],lg:[483,425]},
 {left:638,ix:865,xr:[-2.36,29],yr:[-2.4,28.92],inf:infB,h0:h0B,
  h1:[...toPts(h1bTop),...toPts(h1bLow),...toPts(h1bDense)],h1i:h1bInset,
  h2:[...toPts(h2bEdge),...toPts(h2bLeft),...fromRows(h2bRows)],h2i:h2bInset,
  box:[[8,9],[12,9],[12,13],[8,13],[8,9]],c1:[[12,13],[21.15,10.57]],c2:[[8,9],[11.72,1.12]],lg:[1061,422]}
];
const axisBase={type:'value',splitLine:{show:false},axisLine:{show:false,onZero:false},
 axisTick:{show:true,length:4,lineStyle:{color:INK,width:1.3}},
 axisLabel:{color:INK,fontFamily:FONT,fontSize:15,margin:9}};
const grid=[],xAxis=[],yAxis=[],series=[],legend=[];
panels.forEach((p,k)=>{
 const g=k*2,gi=g+1;
 grid.push({left:p.left,top:21,width:505,height:504,show:true,borderColor:INK,borderWidth:1.8,backgroundColor:'#fff',z:0});
 grid.push({left:p.ix,top:316,width:152,height:152,show:true,borderColor:GRAY,borderWidth:1.5,backgroundColor:'#fff',z:3});
 xAxis.push({...axisBase,gridIndex:g,min:p.xr[0],max:p.xr[1],name:'Birth',nameLocation:'middle',nameGap:31,
  nameTextStyle:{color:INK,fontFamily:FONT,fontSize:15},
  axisTick:{...axisBase.axisTick,customValues:ticksMain},axisLabel:{...axisBase.axisLabel,customValues:ticksMain}});
 yAxis.push({...axisBase,gridIndex:g,min:p.yr[0],max:p.yr[1],name:'Death',nameLocation:'middle',nameGap:36,
  nameTextStyle:{color:INK,fontFamily:FONT,fontSize:15},
  axisTick:{...axisBase.axisTick,customValues:ticksMain},axisLabel:{...axisBase.axisLabel,margin:10,customValues:ticksMain}});
 xAxis.push({...axisBase,gridIndex:gi,min:8,max:12,z:4,
  axisTick:{...axisBase.axisTick,lineStyle:{color:GRAY,width:1.3},customValues:ticksInset},
  axisLabel:{...axisBase.axisLabel,margin:8,color:GRAY,customValues:ticksInset}});
 yAxis.push({...axisBase,gridIndex:gi,min:9,max:13,show:false});
 const s=(o)=>series.push({silent:true,animation:false,xAxisIndex:g,yAxisIndex:g,...o});
 const line=(name,data,ls,z)=>s({type:'line',name,data,symbol:'none',showSymbol:false,lineStyle:ls,itemStyle:{color:'rgba(0,0,0,0)'},z,clip:true});
 line('c',p.c1,{color:'#222',width:1.5},2);
 line('c',p.c2,{color:'#222',width:1.5},2);
 line('∞',[[p.xr[0],p.inf],[p.xr[1],p.inf]],{color:'#000',width:2.2,type:[8.5,3.5]},2);
 const dot=(name,data,color,z)=>s({type:'scatter',name,data,symbol:'circle',symbolSize:8,itemStyle:{color,opacity:1},z});
 dot('H0',toPts(p.h0),BLUE,3);
 dot('H1',[...p.h1,...toPts(p.h1i)],ORANGE,4);
 dot('H2',[...p.h2,...toPts(p.h2i)],GREEN,5);
 line('d',[[-3,-3],[30,30]],{color:'#000',width:2.2,type:[8.5,3.5]},6);
 line('b',p.box,{color:'#000',width:1.8},8);
 series.push({silent:true,animation:false,type:'scatter',name:'iH1',xAxisIndex:gi,yAxisIndex:gi,data:toPts(p.h1i),symbol:'circle',symbolSize:7,itemStyle:{color:IORANGE,opacity:.95},z:7});
 series.push({silent:true,animation:false,type:'scatter',name:'iH2',xAxisIndex:gi,yAxisIndex:gi,data:toPts(p.h2i),symbol:CROSS,symbolSize:11,itemStyle:{color:'none',borderColor:IGREEN,borderWidth:1.6},z:7});
 legend.push({left:p.lg[0],top:p.lg[1],orient:'vertical',data:legendNames,selectedMode:false,backgroundColor:'#fff',borderColor:'#ccc',borderWidth:1,borderRadius:3,
  padding:[3,8,3,5],itemWidth:31,itemHeight:7,itemGap:7.5,z:20,
  formatter:n=>n==='∞'?'{f|∞}':'{i|H}{s|'+n[1]+'}',
  textStyle:{rich:{f:{fontFamily:FONT,fontSize:14,color:GRAY,padding:[0,0,0,7],lineHeight:18},
   i:{fontFamily:FONT,fontStyle:'italic',fontSize:15,color:GRAY,padding:[0,0,0,7],lineHeight:18},
   s:{fontFamily:FONT,fontSize:11,color:GRAY,verticalAlign:'bottom',lineHeight:14,padding:[4,0,0,0]}}}});
});
const tText=(text,left,top,style)=>({text,left,top,padding:0,textStyle:style});
const serif={fontFamily:'DejaVu Serif',fontSize:14.1,fontWeight:'normal',color:'#222'};
const cm={fontFamily:'Liberation Serif',fontSize:16.5,fontWeight:'normal',color:'#222'};
const title=[
 tText('(a)',301,581,cm),
 tText('(b)',881,581,cm),
 tText('{b|Fig. 6.} The PD generated with (a) malicious model and (b) benign model, both from the fully-connected layer of LeNet.',149,629,
  {...serif,rich:{b:{fontFamily:'DejaVu Serif',fontWeight:'bold',fontSize:14.1,color:'#222'}}}),
 tText('CSDN @开心星人',995,640,{fontFamily:'Noto Sans CJK SC',fontSize:22.3,fontWeight:'normal',color:'#d6d6d6'})
];
const chart=echarts.init(document.getElementById('c'),null,{renderer:'canvas'});
chart.setOption({animation:false,backgroundColor:'#fff',title,grid,xAxis,yAxis,series,legend,tooltip:{show:false}});
</script></body></html>
